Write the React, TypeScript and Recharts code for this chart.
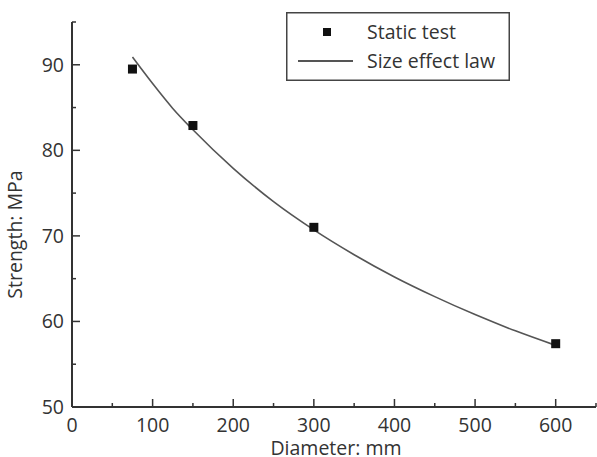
import React from 'react';
import { ComposedChart, Scatter, Line, XAxis, YAxis, Label } from 'recharts';

// measured points (diameter mm, strength MPa)
const testDiameters = [75, 150, 300, 600];
const testStrengths = [89.5, 82.9, 71.0, 57.4];

// fitted size-effect curve
const lawDiameters = [75, 100, 125, 150, 200, 250, 300, 350, 400, 450, 500, 550, 600];
const lawStrengths = [90.9, 87.8, 84.9, 82.4, 77.9, 74.0, 70.7, 67.8, 65.2, 62.9, 60.8, 58.9, 57.2];

const xTicks = [0, 50, 100, 150, 200, 250, 300, 350, 400, 450, 500, 550, 600, 650];
const yTicks = [50, 55, 60, 65, 70, 75, 80, 85, 90, 95];

const testData = testDiameters.map((d, i) => ({ d, s: testStrengths[i] }));
const lawData = lawDiameters.map((d, i) => ({ d, s: lawStrengths[i] }));

const FONT = '"Open Sans", sans-serif';
const FS = 19.5;
const TEXT = '#333';
const AXIS = '#333';

function XTick(props: any) {
  const { x, y, payload } = props;
  const major = payload.value % 100 === 0;
  return (
    <g>
      <line x1={x} x2={x} y1={y} y2={y - (major ? 8 : 4)} stroke={AXIS} strokeWidth={1.5} />
      {major && payload.value <= 600 && (
        <text x={x} y={y + 25} textAnchor="middle" fontSize={FS} fontFamily={FONT} fill={TEXT}>
          {payload.value}
        </text>
      )}
    </g>
  );
}

function YTick(props: any) {
  const { x, y, payload } = props;
  const major = payload.value % 10 === 0;
  return (
    <g>
      <line x1={x} x2={x + (major ? 8 : 4)} y1={y} y2={y} stroke={AXIS} strokeWidth={1.5} />
      {major && (
        <text x={x - 8} y={y + 7} textAnchor="end" fontSize={FS} fontFamily={FONT} fill={TEXT}>
          {payload.value}
        </text>
      )}
    </g>
  );
}

function Square(props: any) {
  const { cx, cy } = props;
  return <rect x={cx - 4.5} y={cy - 4.5} width={9} height={9} fill="#111" />;
}

function LegendBox() {
  return (
    <svg width={224} height={69} style={{ display: 'block' }}>
      <rect x={0.75} y={0.75} width={222.5} height={67.5} fill="#fff" stroke="#444" strokeWidth={1.5} />
      <rect x={37} y={16} width={8} height={8} fill="#111" />
      <text x={81} y={27} fontSize={FS} fontFamily={FONT} fill={TEXT}>Static test</text>
      <line x1={12} x2={67} y1={49} y2={49} stroke="#555" strokeWidth={2} />
      <text x={81} y={56} fontSize={FS} fontFamily={FONT} fill={TEXT}>Size effect law</text>
    </svg>
  );
}

export default function App() {
  return (
    <div style={{ position: 'absolute', left: 0, top: 0, width: 597, height: 457, background: '#fff' }}>
      <ComposedChart width={597} height={457} margin={{ top: 22, right: 1, left: 0, bottom: 0 }}>
        <XAxis
          dataKey="d"
          type="number"
          domain={[0, 650]}
          ticks={xTicks}
          interval={0}
          allowDataOverflow
          height={50}
          axisLine={{ stroke: AXIS, strokeWidth: 2 }}
          tickLine={false}
          tickSize={0}
          tickMargin={0}
          tick={<XTick />}
        >
          <Label
            content={(p: any) => (
              <text
                x={p.viewBox.x + p.viewBox.width / 2 + 2}
                y={p.viewBox.y + 48}
                textAnchor="middle"
                fontSize={FS}
                fontFamily={FONT}
                fill={TEXT}
              >
                Diameter: mm
              </text>
            )}
          />
        </XAxis>
        <YAxis
          dataKey="s"
          type="number"
          domain={[50, 95]}
          ticks={yTicks}
          interval={0}
          allowDataOverflow
          width={72}
          axisLine={{ stroke: AXIS, strokeWidth: 2 }}
          tickLine={false}
          tickSize={0}
          tickMargin={0}
          tick={<YTick />}
        >
          <Label
            content={(p: any) => {
              const cx = 22;
              const cy = p.viewBox.y + p.viewBox.height / 2 + 20;
              return (
                <text
                  x={cx}
                  y={cy}
                  transform={`rotate(-90 ${cx} ${cy})`}
                  textAnchor="middle"
                  fontSize={FS}
                  fontFamily={FONT}
                  fill={TEXT}
                >
                  Strength: MPa
                </text>
              );
            }}
          />
        </YAxis>
        <Line
          data={lawData}
          dataKey="s"
          type="monotone"
          stroke="#555"
          strokeWidth={1.6}
          dot={false}
          isAnimationActive={false}
          name="Size effect law"
        />
        <Scatter
          data={testData}
          dataKey="s"
          shape={<Square />}
          isAnimationActive={false}
          name="Static test"
        />
      </ComposedChart>
      <div style={{ position: 'absolute', left: 286, top: 12 }}>
        <LegendBox />
      </div>
    </div>
  );
}
